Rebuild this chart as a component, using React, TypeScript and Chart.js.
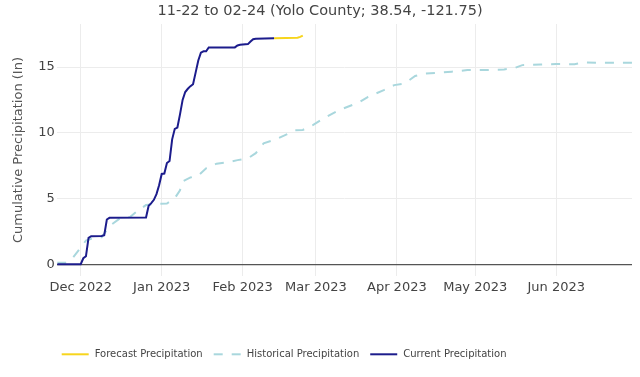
import React, { useEffect, useRef } from 'react';
import { Chart, registerables } from 'chart.js';

Chart.register(...registerables);

const START_DATE = '2022-11-22';
const END_DATE = '2023-06-30';
const TITLE = '11-22 to 02-24 (Yolo County; 38.54, -121.75)';
const Y_TITLE = 'Cumulative Precipitation (In)';

const currentDates = [
  '2022-11-22', '2022-12-01', '2022-12-02', '2022-12-03', '2022-12-04', '2022-12-05',
  '2022-12-09', '2022-12-10', '2022-12-11', '2022-12-12', '2022-12-26', '2022-12-27',
  '2022-12-28', '2022-12-29', '2022-12-30', '2022-12-31', '2023-01-01', '2023-01-02',
  '2023-01-03', '2023-01-04', '2023-01-05', '2023-01-06', '2023-01-07', '2023-01-08',
  '2023-01-09', '2023-01-10', '2023-01-11', '2023-01-12', '2023-01-13', '2023-01-14',
  '2023-01-15', '2023-01-16', '2023-01-17', '2023-01-18', '2023-01-19', '2023-01-29',
  '2023-01-30', '2023-01-31', '2023-02-03', '2023-02-04', '2023-02-05', '2023-02-06',
  '2023-02-13',
];
const currentValues = [
  0, 0, 0.45, 0.6, 2.0, 2.13,
  2.15, 2.2, 3.4, 3.53, 3.55, 4.45,
  4.65, 4.9, 5.33, 6.0, 6.87, 6.9,
  7.7, 7.85, 9.5, 10.3, 10.4, 11.4,
  12.5, 13.1, 13.35, 13.55, 13.7, 14.6,
  15.5, 16.1, 16.2, 16.2, 16.5, 16.5,
  16.65, 16.7, 16.75, 16.95, 17.12, 17.16,
  17.2,
];

const forecastDates = ['2023-02-13', '2023-02-22', '2023-02-23', '2023-02-24'];
const forecastValues = [17.2, 17.23, 17.3, 17.4];

const historicalDates = [
  '2022-11-22', '2022-11-25', '2022-11-28', '2022-12-01', '2022-12-03', '2022-12-06',
  '2022-12-09', '2022-12-11', '2022-12-13', '2022-12-16', '2022-12-20', '2022-12-23',
  '2022-12-26', '2022-12-30', '2023-01-03', '2023-01-06', '2023-01-08', '2023-01-09',
  '2023-01-12', '2023-01-15', '2023-01-18', '2023-01-22', '2023-01-26', '2023-01-30',
  '2023-02-03', '2023-02-06', '2023-02-09', '2023-02-13', '2023-02-17', '2023-02-21',
  '2023-02-24', '2023-02-28', '2023-03-04', '2023-03-10', '2023-03-16', '2023-03-18',
  '2023-03-21', '2023-03-27', '2023-03-31', '2023-04-04', '2023-04-08', '2023-04-12',
  '2023-04-17', '2023-04-22', '2023-04-28', '2023-05-06', '2023-05-12', '2023-05-16',
  '2023-05-19', '2023-05-26', '2023-06-01', '2023-06-08', '2023-06-12', '2023-06-18',
  '2023-06-30',
];
const historicalValues = [
  0.1, 0.1, 0.5, 1.25, 1.8, 2.0,
  2.05, 2.6, 3.05, 3.48, 3.6, 4.1,
  4.5, 4.6, 4.62, 5.02, 5.63, 6.3,
  6.6, 6.75, 7.3, 7.65, 7.75, 7.92,
  8.05, 8.45, 9.2, 9.45, 9.8, 10.2,
  10.22, 10.6, 11.1, 11.73, 12.2, 12.37,
  12.74, 13.25, 13.63, 13.76, 14.32, 14.52,
  14.57, 14.65, 14.77, 14.78, 14.82, 14.92,
  15.15, 15.2, 15.23, 15.22, 15.36, 15.33,
  15.34,
];

const tickDates = ['2022-12-01', '2023-01-01', '2023-02-01', '2023-03-01', '2023-04-01', '2023-05-01', '2023-06-01'];
const tickLabels = ['Dec 2022', 'Jan 2023', 'Feb 2023', 'Mar 2023', 'Apr 2023', 'May 2023', 'Jun 2023'];
const yTicks = [0, 5, 10, 15];
const yMin = -0.9;
const yMax = 18.28;

const FONT = "'DejaVu Sans', Verdana, sans-serif";
const TEXT = '#444';
const GRID = '#ececec';

const dayIndex = (d: string) =>
  Math.round((Date.parse(d + 'T00:00:00Z') - Date.parse(START_DATE + 'T00:00:00Z')) / 86400000);

const toPoints = (dates: string[], values: number[]) =>
  dates.map((d, i) => ({ x: dayIndex(d), y: values[i] }));

// Title centred on the whole figure width (not only the chart box).
const figureTitle = {
  id: 'figureTitle',
  afterDraw(chart: any) {
    const ctx = chart.ctx;
    ctx.save();
    ctx.font = `14.5px ${FONT}`;
    ctx.fillStyle = TEXT;
    ctx.textAlign = 'center';
    ctx.textBaseline = 'middle';
    ctx.fillText(TITLE, chart.width / 2, 11.5);
    ctx.restore();
  },
};

// Horizontal legend with line samples (dashes kept), drawn below the axis.
const lineLegend = {
  id: 'lineLegend',
  afterDraw(chart: any) {
    const ctx = chart.ctx;
    const startX = 61.7;
    const cy = 354.3;
    const sample = 27;
    const gap = 6;
    const spacing = 11;
    ctx.save();
    ctx.font = `10px ${FONT}`;
    ctx.textBaseline = 'middle';
    ctx.textAlign = 'left';
    let x = startX;
    chart.data.datasets.forEach((ds: any) => {
      ctx.save();
      ctx.strokeStyle = ds.borderColor;
      ctx.lineWidth = 2;
      ctx.setLineDash(ds.borderDash || []);
      ctx.beginPath();
      ctx.moveTo(x, cy);
      ctx.lineTo(x + sample, cy);
      ctx.stroke();
      ctx.restore();
      const tx = x + sample + gap;
      ctx.fillStyle = TEXT;
      ctx.fillText(ds.label, tx, cy);
      x = tx + ctx.measureText(ds.label).width + spacing;
    });
    ctx.restore();
  },
};

export default function App() {
  const ref = useRef<HTMLCanvasElement | null>(null);

  useEffect(() => {
    if (!ref.current) return;
    const chart = new Chart(ref.current, {
      type: 'line',
      data: {
        datasets: [
          {
            label: 'Forecast Precipitation',
            data: toPoints(forecastDates, forecastValues),
            borderColor: '#f7d51d',
            backgroundColor: '#f7d51d',
            borderWidth: 2,
            pointRadius: 0,
            tension: 0,
            order: 1,
          },
          {
            label: 'Historical Precipitation',
            data: toPoints(historicalDates, historicalValues),
            borderColor: '#a9d7dd',
            backgroundColor: '#a9d7dd',
            borderWidth: 2,
            borderDash: [9, 9],
            pointRadius: 0,
            tension: 0,
            order: 2,
          },
          {
            label: 'Current Precipitation',
            data: toPoints(currentDates, currentValues),
            borderColor: '#1c1c8c',
            backgroundColor: '#1c1c8c',
            borderWidth: 2,
            pointRadius: 0,
            tension: 0,
            order: 0,
          },
        ],
      },
      options: {
        animation: false,
        responsive: false,
        devicePixelRatio: 1,
        layout: { padding: { left: 0, right: 8, top: 24, bottom: 0 } },
        plugins: {
          title: { display: false },
          legend: { display: false },
          tooltip: { enabled: false },
        },
        scales: {
          x: {
            type: 'linear',
            min: 0,
            max: dayIndex(END_DATE),
            grid: { color: GRID, drawTicks: false },
            border: { display: false },
            ticks: {
              autoSkip: false,
              maxRotation: 0,
              padding: 4,
              color: TEXT,
              font: { family: FONT, size: 13 },
              callback: (v: any) => {
                const i = tickDates.findIndex((d) => dayIndex(d) === v);
                return i >= 0 ? tickLabels[i] : '';
              },
            },
            afterBuildTicks: (s: any) => {
              s.ticks = tickDates.map((d) => ({ value: dayIndex(d) }));
            },
            afterFit: (s: any) => {
              s.height = 101;
            },
          },
          y: {
            type: 'linear',
            min: yMin,
            max: yMax,
            grid: {
              color: (c: any) => (c.tick && c.tick.value === 0 ? '#555' : GRID),
              lineWidth: (c: any) => (c.tick && c.tick.value === 0 ? 1.3 : 1),
              drawTicks: false,
            },
            border: { display: false },
            ticks: {
              padding: 2.5,
              color: TEXT,
              font: { family: FONT, size: 13 },
            },
            afterBuildTicks: (s: any) => {
              s.ticks = yTicks.map((v) => ({ value: v }));
            },
            title: {
              display: true,
              text: Y_TITLE,
              color: '#555',
              font: { family: FONT, size: 13 },
              padding: { top: 10.5, bottom: 0 },
            },
            afterFit: (s: any) => {
              s.width = 57.2;
            },
          },
        },
      },
      plugins: [figureTitle, lineLegend],
    } as any);
    return () => chart.destroy();
  }, []);

  return (
    <div style={{ position: 'absolute', left: 0, top: 0, width: 640, height: 377, background: '#fff' }}>
      <canvas ref={ref} width={640} height={377} style={{ display: 'block', width: 640, height: 377 }} />
    </div>
  );
}
